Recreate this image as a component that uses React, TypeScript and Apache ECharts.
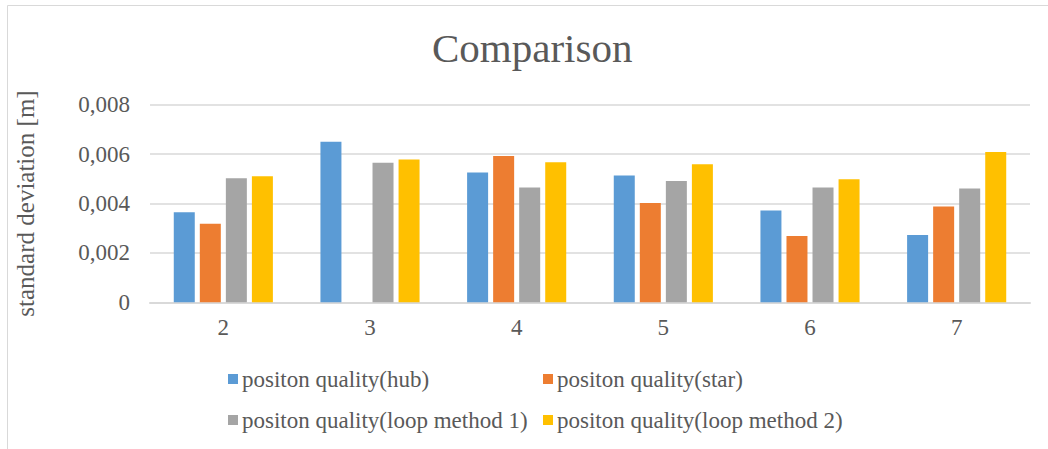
import React, { useEffect, useRef } from "react";
import * as echarts from "echarts";

const categories = ["2", "3", "4", "5", "6", "7"];
const seriesNames = [
  "positon quality(hub)",
  "positon quality(star)",
  "positon quality(loop method 1)",
  "positon quality(loop method 2)",
];
const hubValues = [0.00365, 0.0065, 0.00525, 0.00513, 0.00372, 0.00272];
const starValues: (number | null)[] = [0.00318, null, 0.00592, 0.00402, 0.00268, 0.00388];
const loop1Values = [0.00502, 0.00565, 0.00465, 0.00491, 0.00465, 0.00461];
const loop2Values = [0.0051, 0.00578, 0.00567, 0.00559, 0.00498, 0.00609];
const colors = ["#5B9BD5", "#ED7D31", "#A5A5A5", "#FFC000"];

const FONT = "Liberation Serif";
const TEXT = "#595959";

export default function App() {
  const ref = useRef<HTMLDivElement>(null);
  useEffect(() => {
    if (!ref.current) return;
    const chart = echarts.init(ref.current, undefined, { renderer: "svg" });
    const allValues = [hubValues, starValues, loop1Values, loop2Values];
    const legendPos = [
      { left: 228, top: 367 },
      { left: 543, top: 367 },
      { left: 228, top: 408 },
      { left: 543, top: 408 },
    ];
    chart.setOption({
      animation: false,
      backgroundColor: "#ffffff",
      color: colors,
      textStyle: { fontFamily: FONT },
      title: {
        text: "Comparison",
        left: 432,
        top: 24,
        padding: 0,
        textStyle: { fontFamily: FONT, fontSize: 41, fontWeight: "normal", color: TEXT, lineHeight: 48 },
      },
      graphic: [
        {
          type: "rect",
          shape: { x: 7.5, y: 5.5, width: 1100, height: 500 },
          style: { fill: "none", stroke: "#D9D9D9", lineWidth: 1 },
          silent: true,
        },
      ],
      legend: seriesNames.map((name, i) => ({
        data: [name],
        left: legendPos[i].left,
        top: legendPos[i].top,
        itemWidth: 10,
        itemHeight: 10,
        itemGap: 0,
        padding: 0,
        icon: "rect",
        selectedMode: false,
        textStyle: { fontFamily: FONT, fontSize: 23, color: TEXT, lineHeight: 24, padding: [0, 0, 0, -1] },
      })),
      grid: { left: 150, right: 18, top: 104.7, bottom: 146.7 },
      xAxis: {
        type: "category",
        data: categories,
        axisLine: { lineStyle: { color: "#D9D9D9", width: 2 } },
        axisTick: { show: false },
        axisLabel: { fontFamily: FONT, fontSize: 23, color: TEXT, margin: 14 },
      },
      yAxis: {
        type: "value",
        min: 0,
        max: 0.008,
        interval: 0.002,
        name: "standard deviation [m]",
        nameLocation: "middle",
        nameRotate: 90,
        nameGap: 112,
        nameTextStyle: { fontFamily: FONT, fontSize: 25, color: TEXT },
        axisLine: { show: false },
        axisTick: { show: false },
        splitLine: { lineStyle: { color: "#D9D9D9", width: 1.5 } },
        axisLabel: {
          fontFamily: FONT,
          fontSize: 23,
          color: TEXT,
          margin: 20,
          formatter: (v: number) => (v === 0 ? "0" : v.toFixed(3).replace(".", ",")),
        },
      },
      series: seriesNames.map((name, i) => ({
        name,
        type: "bar",
        data: allValues[i],
        barWidth: 21,
        barGap: "24%",
        itemStyle: { color: colors[i] },
      })),
    });
    return () => chart.dispose();
  }, []);
  return (
    <div
      ref={ref}
      style={{ position: "fixed", left: 0, top: 0, width: 1048, height: 449 }}
    />
  );
}
